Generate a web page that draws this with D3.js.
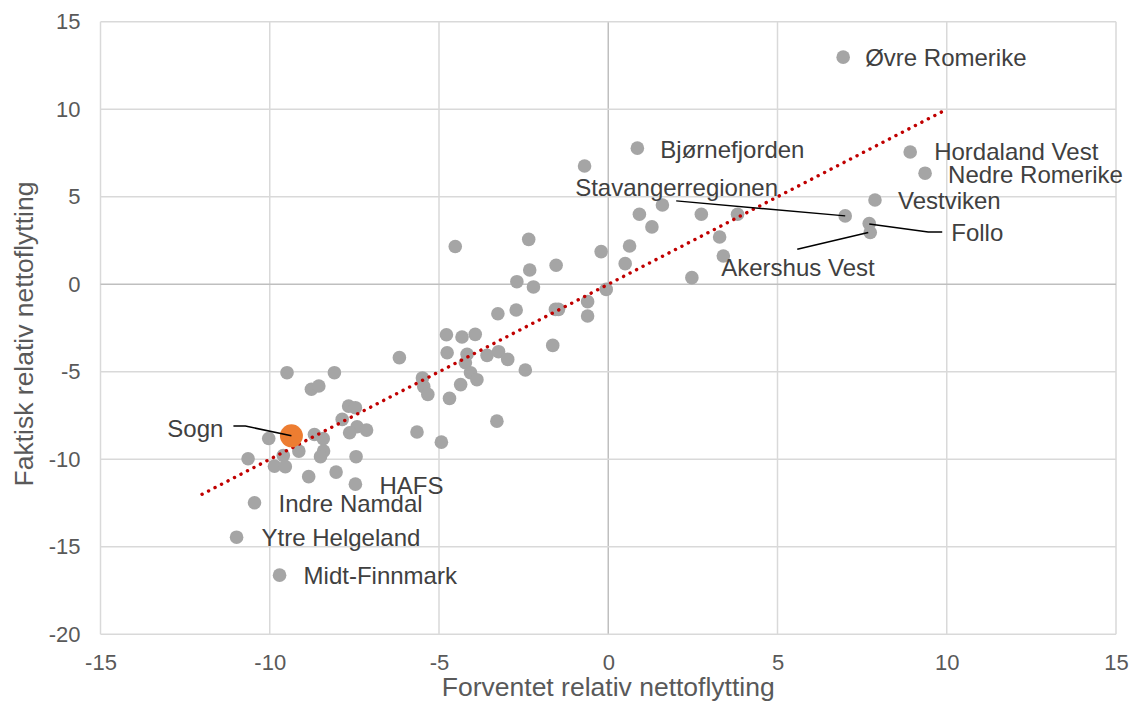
<!DOCTYPE html>
<html>
<head>
<meta charset="utf-8">
<script src="https://cdn.jsdelivr.net/npm/d3@7"></script>
<style>
  body { margin: 0; background: #fff; }
  text { font-family: "Liberation Sans", Arial, sans-serif; }
</style>
</head>
<body>
<div id="chart"></div>
<script>
// forventet vs faktisk relativ nettoflytting per region

var width = 1131,
    height = 701;

// named regions (the rest are unlabeled)
var navn = ["Øvre Romerike", "Bjørnefjorden", "Hordaland Vest", "Nedre Romerike", "Vestviken",
  "Stavangerregionen", "Follo", "Akershus Vest", "Sogn", "HAFS", "Indre Namdal",
  "Ytre Helgeland", "Midt-Finnmark"];
var navnForventet = [6.94, 0.86, 8.92, 9.36, 7.88, 7.00, 7.71, 7.74, -9.36, -7.47, -10.45, -10.98, -9.71];
var navnFaktisk = [12.98, 7.78, 7.56, 6.35, 4.82, 3.91, 3.47, 2.96, -8.66, -11.42, -12.48, -14.45, -16.62];

var forventet = [-6.17, -4.76, -4.17, -9.49, -8.09, -8.77, -8.55, -4.22, -4.07, -3.88,
  -5.49, -5.45, -5.33, -4.36, -4.69, -7.67, -7.47, -7.86, -7.42, -7.14,
  -7.64, -8.68, -8.42, -10.03, -5.65, -4.93, -9.14, -8.41, -8.50, -7.45,
  -10.64, -9.60, -9.86, -9.54, -8.85, -8.04, -4.52, -2.35, -2.32, -1.54,
  -0.21, 0.63, 0.50, -2.70, -2.21, -0.06, -3.26, -2.72, -1.56, -1.47,
  -0.61, -0.61, -4.78, -4.32, -3.93, -1.64, -3.58, -3.24, -2.97, -2.45,
  -3.29, -0.70, 1.60, 0.92, 1.29, 2.75, 3.82, 3.29, 3.40, 2.47];
var faktisk = [-4.19, -3.91, -4.00, -5.05, -5.05, -6.00, -5.81, -4.48, -5.05, -5.45,
  -5.35, -5.85, -6.29, -5.73, -6.52, -6.96, -7.05, -7.72, -8.14, -8.33,
  -8.48, -8.58, -8.82, -8.81, -8.44, -9.02, -9.53, -9.53, -9.85, -9.85,
  -9.97, -9.78, -10.39, -10.42, -10.99, -10.73, 2.16, 2.57, 0.82, 1.09,
  1.87, 2.19, 1.18, 0.15, -0.15, -0.29, -1.68, -1.47, -1.43, -1.43,
  -0.99, -1.81, -2.88, -3.01, -2.86, -3.49, -4.06, -3.85, -4.29, -4.90,
  -7.82, 6.76, 4.53, 4.00, 3.28, 4.00, 4.00, 2.70, 1.62, 0.38];

var highlight = "Sogn";

// trend line endpoints (x values) and fitted coefficients
var trendX = [-12, 10];
var trendSlope = 1.0,
    trendIntercept = 0.0;

var xTicks = [-15, -10, -5, 0, 5, 10, 15];
var yTicks = [-20, -15, -10, -5, 0, 5, 10, 15];

// label placement relative to the point, in pixels
var labelLayout = {
  "Øvre Romerike": { dx: 22, dy: 0 },
  "Bjørnefjorden": { dx: 23, dy: 1 },
  "Hordaland Vest": { dx: 24, dy: 0 },
  "Nedre Romerike": { dx: 23, dy: 1 },
  "Vestviken": { dx: 23, dy: 1 },
  "Stavangerregionen": { dx: -270, dy: -28, leader: [[-169, -15], [0, 0]] },
  "Follo": { dx: 82, dy: 9, leader: [[0, 0.5], [59, 8.4], [73, 8.4]] },
  "Akershus Vest": { dx: -149, dy: 35, leader: [[-73, 16.7], [-2, 0]] },
  "Sogn": { dx: -68, dy: -7.5, anchor: "end", leader: [[-58, -9.8], [-46, -9.8], [0, 0]] },
  "HAFS": { dx: 24, dy: 1 },
  "Indre Namdal": { dx: 24, dy: 1 },
  "Ytre Helgeland": { dx: 25, dy: 0 },
  "Midt-Finnmark": { dx: 24, dy: 0 }
};

var x = d3.scaleLinear().domain([-15, 15]).range([100.5, 1116]);
var y = d3.scaleLinear().domain([-20, 15]).range([634.3, 21.8]);

var svg = d3.select("#chart").append("svg")
    .attr("width", width)
    .attr("height", height);

// gridlines
svg.append("g").selectAll("line")
  .data(xTicks)
  .enter().append("line")
  .attr("x1", function(d) { return x(d); })
  .attr("x2", function(d) { return x(d); })
  .attr("y1", y(15))
  .attr("y2", y(-20))
  .style("stroke", function(d) { return d === 0 ? "#bfbfbf" : "#d9d9d9"; })
  .style("stroke-width", 1.5);

svg.append("g").selectAll("line")
  .data(yTicks)
  .enter().append("line")
  .attr("x1", x(-15))
  .attr("x2", x(15))
  .attr("y1", function(d) { return y(d); })
  .attr("y2", function(d) { return y(d); })
  .style("stroke", function(d) { return d === 0 ? "#bfbfbf" : "#d9d9d9"; })
  .style("stroke-width", 1.5);

// tick labels (plain hyphen for negatives, like the original)
var fmt = function(d) { return String(d); };
var xAxis = svg.append("g")
  .attr("transform", "translate(0," + y(-20) + ")")
  .call(d3.axisBottom(x).tickValues(xTicks).tickFormat(fmt).tickSize(0).tickPadding(20));
var yAxis = svg.append("g")
  .attr("transform", "translate(" + x(-15) + ",0)")
  .call(d3.axisLeft(y).tickValues(yTicks).tickFormat(fmt).tickSize(0).tickPadding(20));

[xAxis, yAxis].forEach(function(a) {
  a.select(".domain").remove();
  a.selectAll("text")
    .style("font-family", "'Liberation Sans', Arial, sans-serif")
    .style("font-size", "22px")
    .style("fill", "#595959");
});

// axis titles
svg.append("text")
  .attr("x", x(0))
  .attr("y", 696)
  .attr("text-anchor", "middle")
  .style("font-size", "26.5px")
  .style("fill", "#595959")
  .text("Forventet relativ nettoflytting");

svg.append("text")
  .attr("transform", "translate(33," + ((y(15) + y(-20)) / 2 + 6) + ") rotate(-90)")
  .attr("text-anchor", "middle")
  .style("font-size", "26.5px")
  .style("fill", "#595959")
  .text("Faktisk relativ nettoflytting");

// points
var points = forventet.map(function(v, i) {
  return { name: "", fx: v, fy: faktisk[i] };
});
navn.forEach(function(n, i) {
  points.push({ name: n, fx: navnForventet[i], fy: navnFaktisk[i] });
});

svg.append("g").selectAll("circle")
  .data(points.filter(function(d) { return d.name !== highlight; }))
  .enter().append("circle")
  .attr("cx", function(d) { return x(d.fx); })
  .attr("cy", function(d) { return y(d.fy); })
  .attr("r", 6.8)
  .attr("fill", "#a5a5a5");

// trend line
svg.append("line")
  .attr("x1", x(trendX[0]))
  .attr("y1", y(trendSlope * trendX[0] + trendIntercept))
  .attr("x2", x(trendX[1]))
  .attr("y2", y(trendSlope * trendX[1] + trendIntercept))
  .style("stroke", "#c00000")
  .style("stroke-width", 3.4)
  .style("stroke-linecap", "round")
  .style("stroke-dasharray", "0.1 7.2");

// highlighted point
svg.append("g").selectAll("circle")
  .data(points.filter(function(d) { return d.name === highlight; }))
  .enter().append("circle")
  .attr("cx", function(d) { return x(d.fx); })
  .attr("cy", function(d) { return y(d.fy); })
  .attr("r", 11.5)
  .attr("fill", "#ed7d31");

// leaders and labels
var named = points.filter(function(d) { return d.name !== ""; });

named.forEach(function(d) {
  var lay = labelLayout[d.name];
  var px = x(d.fx), py = y(d.fy);
  if (lay.leader) {
    svg.append("path")
      .attr("d", d3.line()(lay.leader.map(function(p) { return [px + p[0], py + p[1]]; })))
      .style("fill", "none")
      .style("stroke", "#000")
      .style("stroke-width", 1.5);
  }
  svg.append("text")
    .attr("x", px + lay.dx)
    .attr("y", py + lay.dy)
    .attr("dy", "0.35em")
    .attr("text-anchor", lay.anchor || "start")
    .style("font-size", "24px")
    .style("fill", "#404040")
    .text(d.name);
});
</script>
</body>
</html>
